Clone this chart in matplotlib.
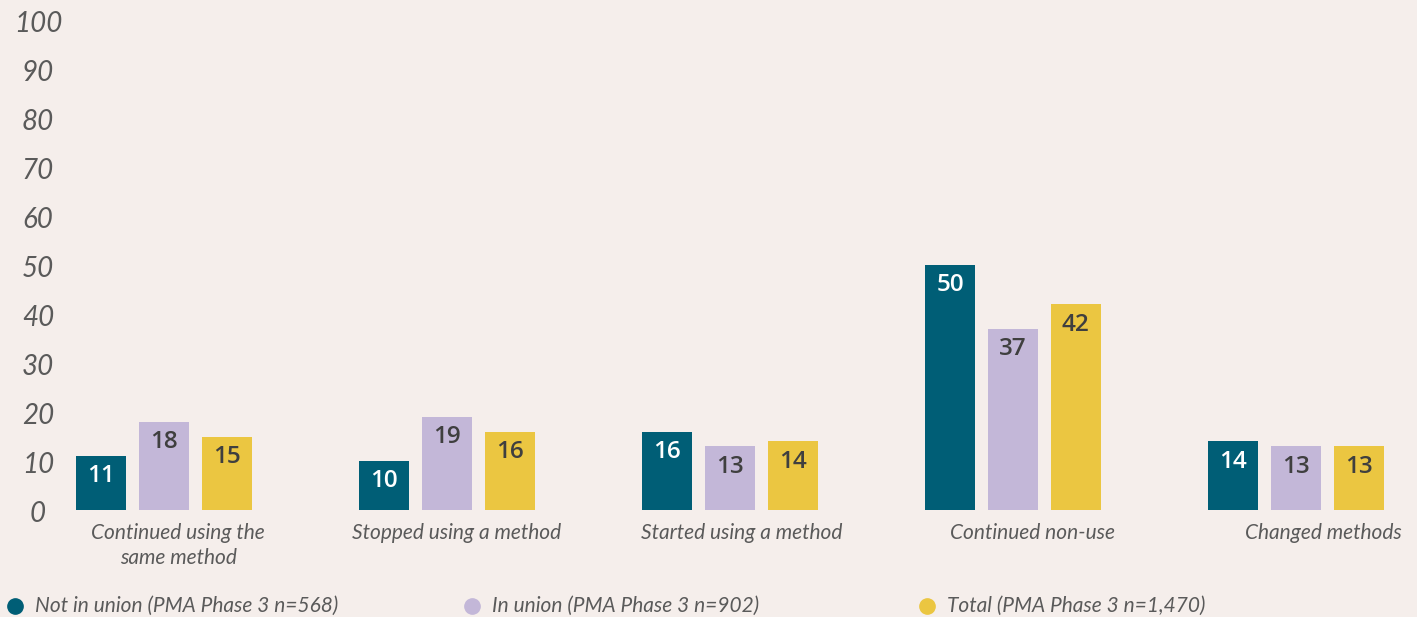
import matplotlib
matplotlib.use("Agg")
import matplotlib.pyplot as plt
from matplotlib.lines import Line2D
import numpy as np

categories = ["Continued using the\nsame method", "Stopped using a method",
              "Started using a method", "Continued non-use", "Changed methods"]
series_names = ["Not in union (PMA Phase 3 n=568)",
                "In union (PMA Phase 3 n=902)",
                "Total (PMA Phase 3 n=1,470)"]
not_in_union = [11, 10, 16, 50, 14]
in_union = [18, 19, 13, 37, 13]
total = [15, 16, 14, 42, 13]
yticks = [0, 10, 20, 30, 40, 50, 60, 70, 80, 90, 100]

colors = ["#005E76", "#C3B7D8", "#EBC641"]
label_colors = ["white", "#3F3F3F", "#3F3F3F"]
bg = "#F5EEEB"
grey = "#5A5A5A"

W, H = 1417, 617
fig = plt.figure(figsize=(W / 100, H / 100), dpi=100, facecolor=bg)
ax_left, ax_right = 65 / W, 1.0
ax_bottom = (H - 510) / H
ax = fig.add_axes([ax_left, ax_bottom, ax_right - ax_left, 1 - ax_bottom])
ax.set_facecolor(bg)

px_per_unit = 283.0
x0 = 164.0
ax.set_xlim((65 - x0) / px_per_unit, (W - x0) / px_per_unit)
ax.set_ylim(0, 510 / 4.9)

x = np.arange(len(categories))
bw = 50 / px_per_unit
step = 62.7 / px_per_unit
all_series = [not_in_union, in_union, total]
for i, vals in enumerate(all_series):
    xs = x + (i - 1) * step
    ax.bar(xs, vals, width=bw, color=colors[i], zorder=2)
    for xi, v in zip(xs, vals):
        ax.annotate(str(v), (xi, v), xytext=(0, -6), textcoords="offset points",
                    ha="center", va="top", fontsize=17.5, color=label_colors[i],
                    family=["Open Sans", "DejaVu Sans"], fontweight=600)

for s in ax.spines.values():
    s.set_visible(False)
ax.set_xticks([])
ax.set_yticks([])
for t in yticks:
    ax.text((38 - 65) / (W - 65), t - 0.8, str(t), transform=ax.get_yaxis_transform(),
            ha="center", va="center", fontsize=20, style="italic", color=grey,
            family=["Lato", "DejaVu Sans"])

label_off = [14, 10, 12, 20, 27]
for xi, cat, off in zip(x, categories, label_off):
    ax.text(xi + off / px_per_unit, -2.6, cat, ha="center", va="top", fontsize=15,
            style="italic", color=grey, family=["Lato", "DejaVu Sans"],
            linespacing=1.35, clip_on=False)

leg_marker_x = [15, 472, 927]
leg_y = 1 - 606 / H
for mx, name, c in zip(leg_marker_x, series_names, colors):
    fig.add_artist(Line2D([mx / W], [leg_y], marker="o", markersize=11, color=c,
                          linestyle="none", transform=fig.transFigure))
    fig.text((mx + 20) / W, leg_y, name, ha="left", va="center", fontsize=15,
             style="italic", color=grey, family=["Lato", "DejaVu Sans"])

fig.savefig("out.png", dpi=100, facecolor=bg)
